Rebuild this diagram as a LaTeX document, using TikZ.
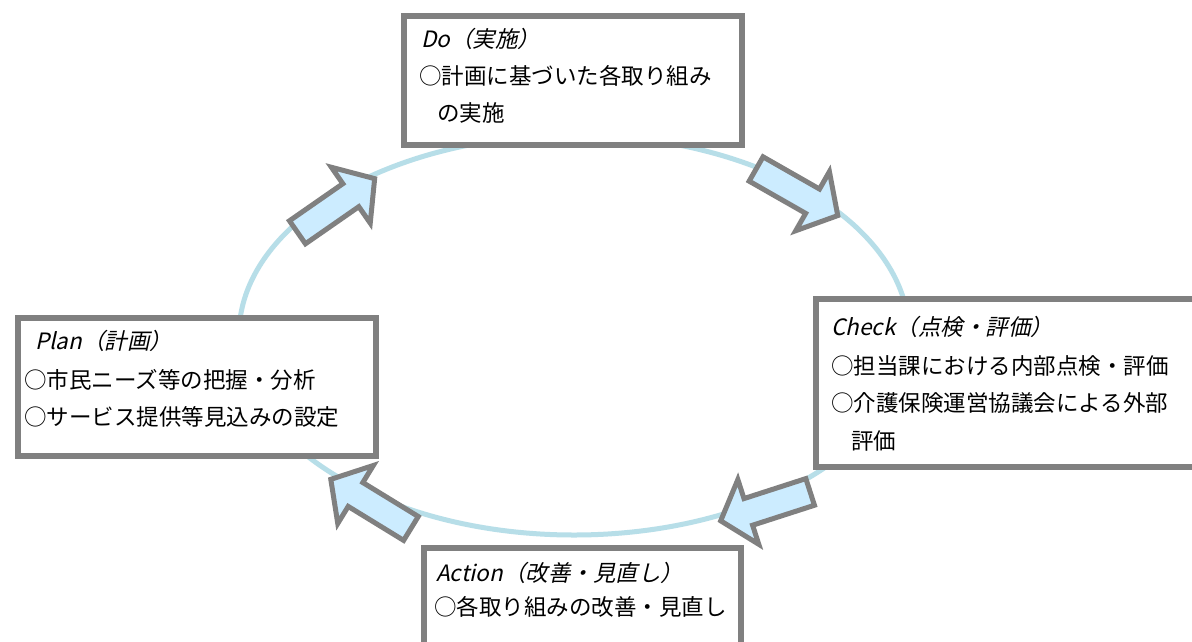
\documentclass[tikz,border=0pt]{standalone}
\usepackage{fontspec}
\setmainfont{Noto Sans CJK JP}
\newfontfamily\jpfont{Noto Sans CJK JP}
\newfontfamily\jpitfont[FakeSlant=0.22]{Noto Sans CJK JP}
\definecolor{bordergray}{RGB}{128,128,128}
\definecolor{arrowblue}{RGB}{204,236,255}
\definecolor{ringblue}{RGB}{183,222,232}
\newcommand\blockarrow[2]{%
  \begin{scope}[shift={#1},rotate=#2]
    \draw[arr] (3,-14) -- (68,-14) -- (68,-34) -- (97,0) -- (68,34) -- (68,14) -- (3,14) -- cycle;
  \end{scope}}
\begin{document}
\begin{tikzpicture}[x=1pt,y=-1pt,
  box/.style={draw=bordergray, line width=5.5pt, fill=white, rectangle, inner sep=0pt, anchor=north west},
  arr/.style={draw=bordergray, line width=5pt, fill=arrowblue, line join=miter},
  body/.style={font=\jpfont\fontsize{22.5}{37}\selectfont, anchor=base west, inner sep=0pt},
  titletext/.style={font=\jpitfont\fontsize{22.5}{37}\selectfont, anchor=base west, inner sep=0pt},
]
\useasboundingbox (0,0) rectangle (1192,641);
\clip (0,0) rectangle (1192,641);
\fill[white] (0,0) rectangle (1192,641);

% cycle ring
\draw[ringblue, line width=5pt] (574,335) ellipse [x radius=335, y radius=200];

% boxes
\node[box, minimum width=338, minimum height=129] (do) at (401,13) {};
\node[box, minimum width=387, minimum height=168] (check) at (813,296) {};
\node[box, minimum width=358, minimum height=138] (plan) at (15,315) {};
\node[box, minimum width=317, minimum height=115] (action) at (421,545) {};

% texts
\node[titletext] (dot) at (421,47) {Do（実施）};
\node[body] (do1) at (419,84) {○計画に基づいた各取り組み};
\node[body] (do2) at (437,121) {の実施};

\node[titletext] (ckt) at (831,335) {Check（点検・評価）};
\node[body] (ck1) at (831,374) {○担当課における内部点検・評価};
\node[body] (ck2) at (831,411) {○介護保険運営協議会による外部};
\node[body] (ck3) at (851,449) {評価};

\node[titletext] (plt) at (35,349) {Plan（計画）};
\node[body] (pl1) at (24,388) {○市民ニーズ等の把握・分析};
\node[body] (pl2) at (24,425) {○サービス提供等見込みの設定};

\node[titletext] (act) at (436,581) {Action（改善・見直し）};
\node[body] (ac1) at (434,615) {○各取り組みの改善・見直し};

% block arrows
\blockarrow{(295,234)}{34.8}
\blockarrow{(753.5,167.5)}{-29.7}
\blockarrow{(813,491)}{197.9}
\blockarrow{(413.5,530)}{148.5}
\end{tikzpicture}
\end{document}
